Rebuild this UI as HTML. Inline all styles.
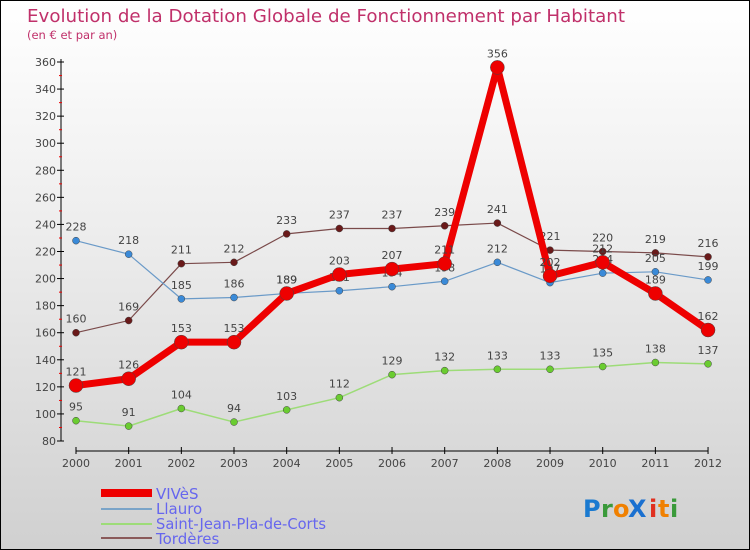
<!DOCTYPE html>
<html><head><meta charset="utf-8"><style>
body{margin:0}
#c{width:748px;height:548px;border:1px solid #000;background:linear-gradient(#fff 0%,#eee 40%,#d0d0d0 100%);position:relative;font-family:"DejaVu Sans","Liberation Sans",sans-serif;overflow:hidden}
svg text{font-family:"DejaVu Sans","Liberation Sans",sans-serif}
</style></head><body><div id="c">
<svg id="s" width="748" height="548" xmlns="http://www.w3.org/2000/svg">
<text x="26" y="21" font-size="18" fill="#c0306a" textLength="598" lengthAdjust="spacingAndGlyphs">Evolution de la Dotation Globale de Fonctionnement par Habitant</text>
<text x="26" y="38" font-size="11.5" fill="#c0306a">(en € et par an)</text>
<line x1="60" y1="58" x2="60" y2="440" stroke="#000"/>
<line x1="75" y1="450" x2="707" y2="450" stroke="#000"/>
<g id="g"></g>
<rect x="100" y="488" width="51" height="8" fill="#e00"/>
<line x1="100" y1="508" x2="151" y2="508" stroke="#7aa4c8" stroke-width="2"/>
<line x1="100" y1="523" x2="151" y2="523" stroke="#9ddc78" stroke-width="2"/>
<line x1="100" y1="537" x2="151" y2="537" stroke="#8a5a5a" stroke-width="2"/>
<g font-size="15" fill="#6666ee">
<text x="155" y="498">VIVèS</text>
<text x="155" y="513">Llauro</text>
<text x="155" y="528" textLength="170" lengthAdjust="spacingAndGlyphs">Saint-Jean-Pla-de-Corts</text>
<text x="155" y="543">Tordères</text>
</g>
<g font-size="24" font-weight="bold">
<text x="582" y="516" fill="#1a7ad0">P</text><text x="600" y="516" fill="#3a9a3a">r</text><text x="612" y="516" fill="#f08000">o</text><text x="627" y="516" fill="#1a70d0">X</text><text x="648" y="516" fill="#e03020">i</text><text x="657" y="516" fill="#f08000">t</text><text x="669" y="516" fill="#3a9a3a">i</text>
</g>
</svg></div>
<script>
var g=document.getElementById('g'),h='';
function Y(v){return 440-(v-80)*1.3536}
function X(i){return 75+i*52.67}
for(var v=80;v<=360;v+=20){var y=Y(v);h+='<line x1="56" y1="'+y+'" x2="63" y2="'+y+'" stroke="#000"/><text x="55" y="'+(y+4)+'" font-size="11" fill="#444" text-anchor="end">'+v+'</text>';
if(v<360)h+='<line x1="58" y1="'+(y-13.5)+'" x2="61" y2="'+(y-13.5)+'" stroke="#e00"/>';}
for(var i=0;i<13;i++){h+='<line x1="'+X(i)+'" y1="446" x2="'+X(i)+'" y2="453" stroke="#000"/><text x="'+X(i)+'" y="466" font-size="11" fill="#444" text-anchor="middle">'+(2000+i)+'</text>';}
var S=[
[[160,169,211,212,233,237,237,239,241,221,220,219,216],'#7a4a4a','#6a1a1a',1.2,3.5],
[[228,218,185,186,189,191,194,198,212,197,204,205,199],'#6a9ac8','#3a8ad8',1.2,3.5],
[[95,91,104,94,103,112,129,132,133,133,135,138,137],'#9ddc78','#6acc30',1.5,3.5],
[[121,126,153,153,189,203,207,211,356,202,212,189,162],'#e00','#e00',7,7]];
S.forEach(function(s){var p=s[0].map(function(v,i){return X(i)+','+Y(v)}).join(' ');
h+='<polyline points="'+p+'" fill="none" stroke="'+s[1]+'" stroke-width="'+s[3]+'" stroke-linejoin="round"/>';
s[0].forEach(function(v,i){h+='<circle cx="'+X(i)+'" cy="'+Y(v)+'" r="'+s[4]+'" fill="'+s[2]+'" stroke="#444" stroke-width="0.5"/><text x="'+X(i)+'" y="'+(Y(v)-10)+'" font-size="11" fill="#444" text-anchor="middle">'+v+'</text>';});});
g.innerHTML=h;
</script></body></html>
